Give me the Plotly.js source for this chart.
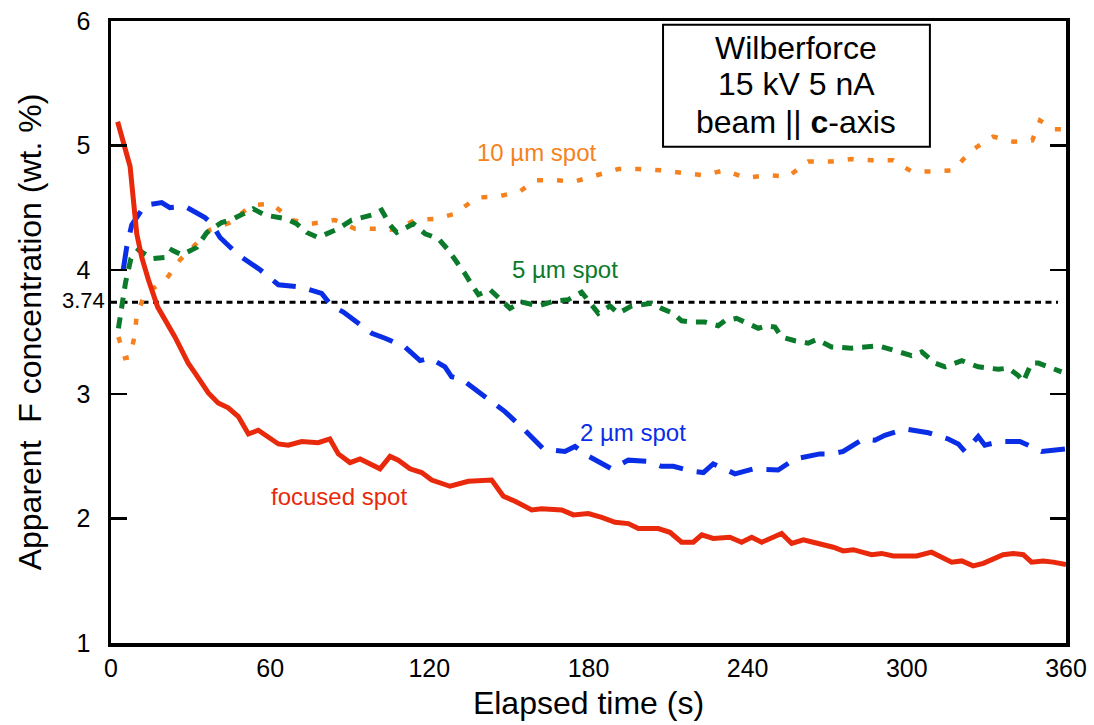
<!DOCTYPE html>
<html>
<head>
<meta charset="utf-8">
<script src="https://cdn.plot.ly/plotly-3.0.1.min.js"></script>
<style>html,body{margin:0;padding:0;background:#fff;}#chart{width:1094px;height:725px;}</style>
</head>
<body>
<div id="chart"></div>
<script>
// Focused spot (red, solid)
const focusedTime = [
  2.5,7.2,9.7,11.6,14.1,17.6,24.1,29.1,31.7,36.7,
  40.4,44.2,48.0,51.8,55.5,63.1,66.8,71.9,78.1,82.5,
  85.7,90.1,93.9,101.4,105.2,108.3,112.7,117.1,120.9,127.8,
  134.7,143.5,147.9,152.3,158.6,162.3,169.9,174.3,179.9,185.0,
  190.0,195.0,198.8,206.3,210.7,215.1,219.5,222.7,227.0,233.3,
  237.7,241.5,245.3,252.8,256.6,261.0,264.7,268.5,272.3,276.0,
  279.8,286.7,290.5,294.9,303.7,309.3,316.9,320.7,325.0,328.8,
  332.6,336.3,340.1,343.9,347.0,351.4,355.2,360
];
const focusedF = [
  5.19,4.83,4.29,4.10,3.92,3.70,3.46,3.25,3.17,3.01,
  2.93,2.89,2.82,2.68,2.71,2.60,2.59,2.62,2.61,2.64,
  2.52,2.45,2.48,2.40,2.50,2.47,2.40,2.37,2.31,2.26,
  2.30,2.31,2.18,2.14,2.07,2.08,2.07,2.03,2.04,2.01,
  1.97,1.96,1.92,1.92,1.89,1.81,1.81,1.87,1.84,1.85,
  1.81,1.85,1.81,1.88,1.80,1.83,1.81,1.79,1.77,1.74,
  1.75,1.71,1.72,1.70,1.70,1.73,1.65,1.66,1.62,1.64,
  1.68,1.71,1.72,1.71,1.65,1.66,1.65,1.63
];
// 2 µm spot (blue, dashed)
const spot2Time = [
  4.6,5.9,7.8,12.8,19.1,22.2,27.9,35.4,38.0,41.1,
  48.0,56.2,63.1,71.9,79.4,83.2,87.6,95.1,98.3,103.3,
  110.8,116.5,120.2,125.9,128.4,132.2,140.3,148.5,156.0,163.0,
  171.1,174.9,179.3,186.8,188.7,195.0,202.5,207.5,212.0,218.9,
  223.3,227.0,235.2,242.1,251.5,257.8,267.2,271.6,276.0,283.6,
  288.0,291.7,299.3,308.1,315.6,319.4,321.9,326.9,329.4,335.1,
  342.6,345.8,350.8,359.6
];
const spot2F = [
  4.00,4.18,4.36,4.52,4.54,4.50,4.51,4.42,4.37,4.26,
  4.12,4.00,3.88,3.86,3.81,3.71,3.66,3.54,3.49,3.45,
  3.38,3.27,3.29,3.22,3.14,3.12,2.99,2.86,2.71,2.56,
  2.54,2.58,2.51,2.43,2.40,2.47,2.46,2.42,2.42,2.38,
  2.37,2.44,2.36,2.40,2.39,2.48,2.52,2.52,2.54,2.64,
  2.63,2.67,2.72,2.69,2.64,2.60,2.54,2.66,2.59,2.62,
  2.62,2.59,2.54,2.56
];
// 5 µm spot (green, short dashes)
const spot5Time = [
  2.8,4.0,5.5,7.5,10.3,15.3,21.0,22.9,26.6,32.3,
  36.1,41.7,46.1,49.9,53.6,58.0,62.5,66.2,70.0,73.8,
  78.1,81.9,85.7,90.7,94.5,98.3,102.0,105.2,107.7,111.5,
  114.0,118.4,123.4,127.1,130.9,133.4,136.6,138.5,142.9,145.4,
  150.4,154.8,161.1,167.4,172.4,177.4,181.2,183.7,188.1,191.2,
  196.3,203.8,207.5,211.9,215.1,218.9,223.9,228.9,231.4,235.8,
  244.0,247.2,250.3,252.8,257.8,262.8,266.0,271.6,279.2,289.2,
  295.5,301.8,305.6,310.6,314.4,320.7,326.9,334.5,338.2,342.0,
  343.9,347.0,349.6,353.3,358.3
];
const spot5F = [
  3.53,3.70,3.90,4.09,4.16,4.09,4.10,4.16,4.12,4.18,
  4.30,4.38,4.41,4.45,4.49,4.44,4.42,4.41,4.37,4.30,
  4.26,4.29,4.33,4.40,4.42,4.44,4.48,4.36,4.30,4.34,
  4.37,4.29,4.25,4.16,4.05,3.97,3.86,3.80,3.84,3.79,
  3.69,3.74,3.71,3.75,3.76,3.82,3.71,3.65,3.71,3.65,
  3.71,3.73,3.69,3.65,3.59,3.58,3.58,3.55,3.59,3.61,
  3.53,3.55,3.54,3.46,3.43,3.41,3.44,3.38,3.37,3.39,
  3.35,3.31,3.34,3.25,3.22,3.27,3.22,3.20,3.21,3.15,
  3.10,3.25,3.25,3.22,3.18
];
// 10 µm spot (orange, dotted)
const spot10Time = [
  2.8,5.3,7.2,8.8,9.7,12.8,16.6,21.0,26.0,31.7,
  37.3,44.9,53.0,60.6,68.1,75.7,84.4,92.0,100.8,107.0,
  114.6,122.1,129.7,137.8,146.0,154.2,159.8,167.4,174.9,183.1,
  191.2,198.8,207.5,215.1,223.3,231.4,239.0,247.8,255.3,262.8,
  271.6,279.2,286.7,294.9,301.8,309.3,317.5,324.4,332.6,340.1,
  347.3,350.2,355.2,358.5
];
const spot10F = [
  3.46,3.29,3.30,3.46,3.63,3.81,3.86,3.93,4.08,4.20,
  4.32,4.38,4.52,4.53,4.40,4.37,4.40,4.33,4.33,4.32,
  4.40,4.41,4.45,4.58,4.59,4.63,4.72,4.72,4.71,4.76,
  4.81,4.81,4.80,4.78,4.76,4.80,4.74,4.76,4.75,4.87,
  4.87,4.89,4.88,4.88,4.79,4.79,4.80,4.96,5.07,5.03,
  5.04,5.20,5.13,5.13
];
// Reference level
const refTime = [0, 357];
const refLevel = 3.74;
const refLabel = "3.74";

const xTicks = [0, 60, 120, 180, 240, 300, 360];
const yTicks = [1, 2, 3, 4, 5, 6];

const seriesNames = ["10 µm spot", "5 µm spot", "2 µm spot", "focused spot"];
const boxLines = ["Wilberforce", "15 kV 5 nA", "beam || <b>c</b>-axis"];

const FONT = "Liberation Sans, Arial, Helvetica, sans-serif";
const cRed = "#E8290B", cBlue = "#0A2EE6", cGreen = "#0B7A2B", cOrange = "#F5821F";

const traces = [
  {x: refTime, y: refTime.map(() => refLevel), mode: "lines",
   line: {color: "#000", width: 3, dash: "6px,4.5px"}, hoverinfo: "skip", name: "ref"},
  {x: spot10Time, y: spot10F, mode: "lines", name: seriesNames[0],
   line: {color: cOrange, width: 4.5, dash: "6px,14px"}},
  {x: spot5Time, y: spot5F, mode: "lines", name: seriesNames[1],
   line: {color: cGreen, width: 5, dash: "11px,9px"}},
  {x: spot2Time, y: spot2F, mode: "lines", name: seriesNames[2],
   line: {color: cBlue, width: 5, dash: "24px,14px"}},
  {x: focusedTime, y: focusedF, mode: "lines", name: seriesNames[3],
   line: {color: cRed, width: 5}}
];

const boxX = 258.4;
const boxLineY = [5.78, 5.49, 5.19];

const annotations = [
  {x: 0, y: refLevel, xref: "x", yref: "y", text: refLabel, showarrow: false,
   xanchor: "right", yanchor: "middle", xshift: -4, yshift: 2, font: {size: 22, family: FONT, color: "#000"}},
  {x: 160.6, y: 4.94, xref: "x", yref: "y", text: seriesNames[0], showarrow: false,
   font: {size: 24, family: FONT, color: cOrange}},
  {x: 171.1, y: 4.00, xref: "x", yref: "y", text: seriesNames[1], showarrow: false,
   font: {size: 24, family: FONT, color: cGreen}},
  {x: 196.8, y: 2.69, xref: "x", yref: "y", text: seriesNames[2], showarrow: false,
   font: {size: 24, family: FONT, color: cBlue}},
  {x: 85.9, y: 2.18, xref: "x", yref: "y", text: seriesNames[3], showarrow: false,
   font: {size: 24, family: FONT, color: cRed}}
];
boxLines.forEach((t, i) => annotations.push({
  x: boxX, y: boxLineY[i], xref: "x", yref: "y", text: t, showarrow: false,
  font: {size: 32, family: FONT, color: "#000"}
}));

const layout = {
  width: 1094, height: 725,
  margin: {l: 111, r: 28, t: 21, b: 82},
  paper_bgcolor: "#fff", plot_bgcolor: "#fff",
  showlegend: false,
  font: {family: FONT, color: "#000"},
  xaxis: {
    range: [0, 360], tickvals: xTicks, ticktext: xTicks.map(String),
    ticks: "", showgrid: false, zeroline: false,
    showline: true, linecolor: "#000", linewidth: 3.5, mirror: true,
    tickfont: {size: 25, family: FONT}, ticklabelstandoff: 0,
    title: {text: "Elapsed time (s)", font: {size: 32, family: FONT}, standoff: 12},
    automargin: false
  },
  yaxis: {
    range: [1, 6], tickvals: yTicks, ticktext: yTicks.map(String),
    ticks: "inside", ticklen: 16, tickwidth: 2.5, tickcolor: "#000",
    showgrid: false, zeroline: false,
    showline: true, linecolor: "#000", linewidth: 3.5, mirror: "ticks",
    tickfont: {size: 25, family: FONT}, ticklabelstandoff: 12,
    title: {text: "Apparent&nbsp; F concentration (wt. %)", font: {size: 32, family: FONT}, standoff: 26},
    automargin: false
  },
  shapes: [
    {type: "rect", xref: "x", yref: "y", x0: 208.1, x1: 308.7, y0: 4.99, y1: 5.97,
     line: {color: "#000", width: 2}, fillcolor: "#fff", layer: "below"}
  ],
  annotations: annotations
};

Plotly.newPlot("chart", traces, layout, {staticPlot: true, displayModeBar: false});
</script>
</body>
</html>
